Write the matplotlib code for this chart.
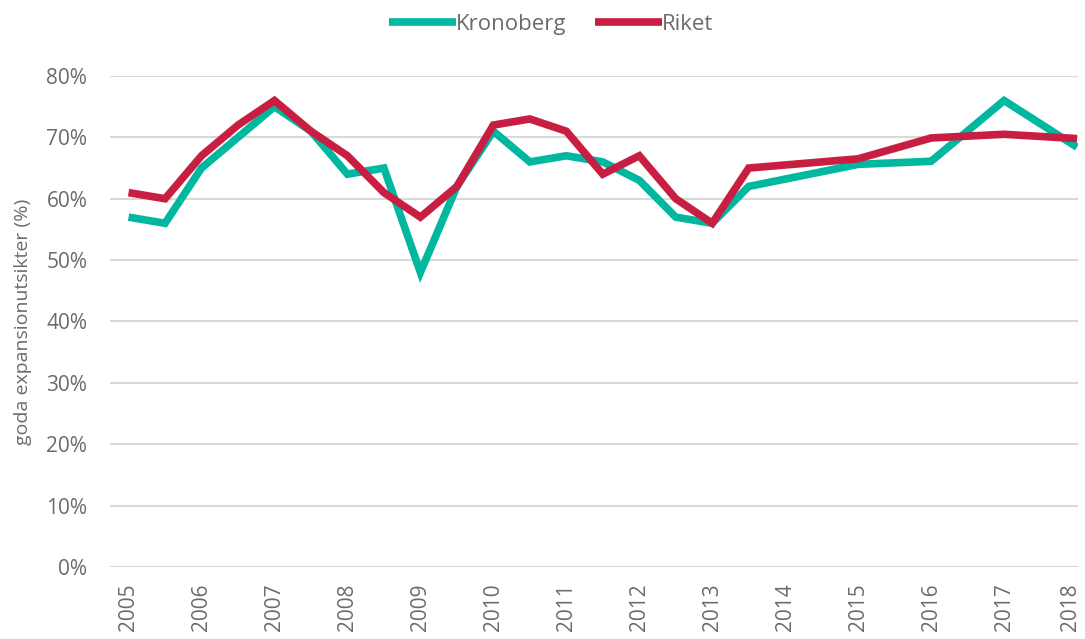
import matplotlib
matplotlib.use("Agg")
import matplotlib.pyplot as plt
import matplotlib.transforms as mtransforms
from matplotlib.ticker import FuncFormatter

# Data
years_k = [2005, 2005.5, 2006, 2006.5, 2007, 2007.5, 2008, 2008.5, 2009, 2009.5,
           2010, 2010.5, 2011, 2011.5, 2012, 2012.5, 2013, 2013.5, 2015, 2016, 2017, 2018]
kronoberg = [57, 56, 65, 70, 75, 71, 64, 65, 48, 62,
             71, 66, 67, 66, 63, 57, 56, 62, 65.6, 66.1, 76, 68.4]
years_r = [2005, 2005.5, 2006, 2006.5, 2007, 2007.5, 2008, 2008.5, 2009, 2009.5,
           2010, 2010.5, 2011, 2011.5, 2012, 2012.5, 2013, 2013.5, 2015, 2016, 2017, 2018]
riket = [61, 60, 67, 72, 76, 71, 67, 61, 57, 62,
         72, 73, 71, 64, 67, 60, 56, 65, 66.5, 69.9, 70.5, 69.8]
tick_years = list(range(2005, 2019))
y_ticks = [0, 10, 20, 30, 40, 50, 60, 70, 80]

plt.rcParams['font.family'] = ['Open Sans', 'DejaVu Sans']
text_color = '#6b6b6b'
teal = '#00B8A0'
red = '#C81E41'

fig = plt.figure(figsize=(10.85, 6.39), dpi=100)
ax = fig.add_axes([0.101, 0.1127, 0.893, 0.7684])

ax.plot(years_k, kronoberg, color=teal, lw=5.5, solid_joinstyle='miter',
        solid_capstyle='butt', label='Kronoberg', zorder=3)
ax.plot(years_r, riket, color=red, lw=5.5, solid_joinstyle='miter',
        solid_capstyle='butt', label='Riket', zorder=4)

ax.set_ylim(0, 80)
ax.set_xlim(2004.74, 2018.02)
ax.set_yticks(y_ticks)
ax.yaxis.set_major_formatter(FuncFormatter(lambda v, p: f"{int(v)}%"))
ax.set_xticks(tick_years)
ax.set_xticklabels([str(y) for y in tick_years], rotation=90)
ax.grid(axis='y', color='#d9d9d9', lw=1.5)
ax.set_axisbelow(True)
for s in ax.spines.values():
    s.set_visible(False)
ax.tick_params(axis='both', length=0, labelsize=15, colors=text_color)
ax.tick_params(axis='y', pad=16)
ax.tick_params(axis='x', pad=12)
ax.set_ylabel('goda expansionutsikter (%)', fontsize=14, color=text_color, labelpad=10)

# nudge the last year label so it stays inside the figure
last = ax.get_xticklabels()[-1]
last.set_transform(last.get_transform() +
                   mtransforms.ScaledTranslation(-5 / 72, 0, fig.dpi_scale_trans))

leg = fig.legend(loc='center', bbox_to_anchor=(0.508, 0.962), ncol=2, frameon=False,
                 fontsize=16, handlelength=3.0, handletextpad=0.0, columnspacing=1.3)
for t in leg.get_texts():
    t.set_color(text_color)

fig.savefig('out.png', dpi=100)
